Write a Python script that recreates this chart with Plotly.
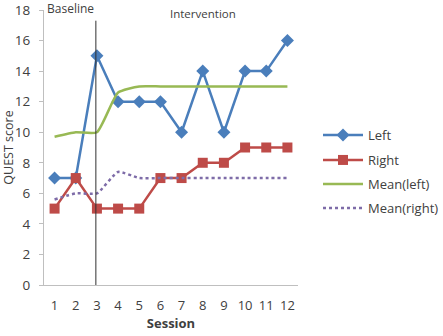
import plotly.graph_objects as go

sessions = [1, 2, 3, 4, 5, 6, 7, 8, 9, 10, 11, 12]
left = [7, 7, 15, 12, 12, 12, 10, 14, 10, 14, 14, 16]
right = [5, 7, 5, 5, 5, 7, 7, 8, 8, 9, 9, 9]
mean_left = [9.7, 10, 10, 12.6, 13, 13, 13, 13, 13, 13, 13, 13]
mean_right = [5.6, 6, 6, 7.4, 7, 7, 7, 7, 7, 7, 7, 7]
y_ticks = [0, 2, 4, 6, 8, 10, 12, 14, 16, 18]

font_family = "Open Sans, Liberation Sans, sans-serif"
txt = "#404040"

PL, PR, PT, PB = 44, 298, 10, 285
PW, PH = PR - PL, PB - PT


def px(xp):
    return (xp - PL) / PW


def py(yp):
    return 1 - (yp - PT) / PH


fig = go.Figure()
fig.add_trace(go.Scatter(x=sessions, y=left, name="Left", mode="lines+markers", legend="legend",
                         line=dict(color="#4A7EBB", width=2.5),
                         marker=dict(symbol="diamond", size=10, color="#4A7EBB")))
fig.add_trace(go.Scatter(x=sessions, y=right, name="Right", mode="lines+markers", legend="legend2",
                         line=dict(color="#BE4B48", width=2.5),
                         marker=dict(symbol="square", size=10, color="#BE4B48")))
fig.add_trace(go.Scatter(x=sessions, y=mean_left, name="Mean(left)", mode="lines", legend="legend3",
                         line=dict(color="#98B954", width=2.5, shape="spline", smoothing=0.5)))
fig.add_trace(go.Scatter(x=sessions, y=mean_right, name="Mean(right)", mode="lines", legend="legend4",
                         line=dict(color="#7E6CA8", width=2.5, dash="dot", shape="spline", smoothing=0.5)))

fig.add_shape(type="line", x0=2.95, x1=2.95, y0=0, y1=17.3, xref="x", yref="y",
              line=dict(color="#303030", width=1))

fig.add_annotation(x=px(70), y=py(9), xref="paper", yref="paper", text="Baseline",
                   showarrow=False, xanchor="center", yanchor="middle",
                   font=dict(size=12, color=txt, family=font_family))
fig.add_annotation(x=px(203), y=py(14), xref="paper", yref="paper",
                   text="Intervention", showarrow=False, xanchor="center", yanchor="middle",
                   font=dict(size=11.5, color=txt, family=font_family))


def leg(yc):
    return dict(x=px(318), y=py(yc), xanchor="left", yanchor="middle",
                font=dict(size=13, color=txt, family=font_family),
                itemwidth=40, bgcolor="rgba(0,0,0,0)")


fig.update_layout(
    width=443, height=336,
    margin=dict(l=PL, r=443 - PR, t=PT, b=336 - PB, autoexpand=False),
    paper_bgcolor="white", plot_bgcolor="white",
    font=dict(family=font_family, color=txt, size=12),
    showlegend=True,
    legend=leg(135), legend2=leg(160), legend3=leg(184), legend4=leg(208),
    xaxis=dict(range=[0.5, 12.5], tickvals=sessions, ticktext=[str(s) for s in sessions],
               showline=True, linecolor="#BFBFBF", linewidth=1, showgrid=False, zeroline=False,
               automargin=False,
               ticks="", tickfont=dict(size=13, color=txt), ticklabelstandoff=8,
               title=dict(text="<b>Session</b>", font=dict(size=13, color=txt), standoff=6)),
    yaxis=dict(range=[0, 18], tickvals=y_ticks, showline=True, linecolor="#BFBFBF", linewidth=1,
               showgrid=False, zeroline=False, ticks="outside", ticklen=4, tickcolor="#BFBFBF",
               automargin=False,
               tickfont=dict(size=13.5, color=txt), ticklabelstandoff=6,
               title=dict(text="QUEST score", font=dict(size=12.5, color=txt), standoff=2)),
)

fig.write_html("out.html")
